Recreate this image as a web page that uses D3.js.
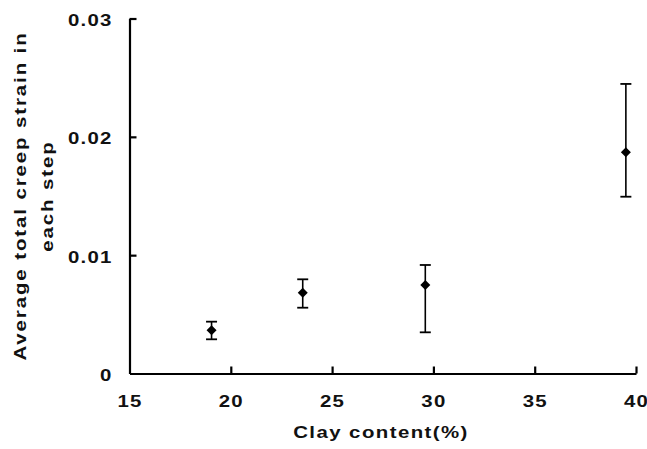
<!DOCTYPE html>
<html><head><meta charset="utf-8">
<script src="https://cdn.jsdelivr.net/npm/d3@7"></script>
<style>
body{margin:0;background:#fff;}
text{font-family:"Liberation Sans",Arial,sans-serif;fill:#111;}
</style></head>
<body><svg id="c" width="647" height="449"></svg>
<script>
const clay = [19.05, 23.55, 29.6, 39.5];
const strain = [0.00365, 0.00683, 0.00748, 0.0187];
const errTop = [0.00438, 0.00796, 0.00917, 0.02447];
const errBottom = [0.00289, 0.00556, 0.00348, 0.01494];
const xTicks = [15, 20, 25, 30, 35, 40];
const yTicks = [0, 0.01, 0.02, 0.03];
const xTitle = "Clay content(%)";
const yTitle = ["Average total creep strain in", "each step"];

const svg = d3.select("#c");
const x = d3.scaleLinear().domain([15, 40]).range([129.5, 636]);
const y = d3.scaleLinear().domain([0, 0.03]).range([373.5, 18.5]);

const fs = 17, sx = 1.2;
function stretch(sel) {
  sel.each(function () {
    const t = d3.select(this);
    const x0 = +t.attr("x") || 0;
    t.attr("x", x0 / sx).attr("transform", `scale(${sx},1)`);
  });
}

const xa = svg.append("g").attr("transform", `translate(0,${y(0)})`)
  .call(d3.axisBottom(x).tickValues(xTicks).tickSizeInner(-7).tickSizeOuter(0).tickPadding(21).tickFormat(d3.format("d")));
const ya = svg.append("g").attr("transform", `translate(${x(15)},0)`)
  .call(d3.axisLeft(y).tickValues(yTicks).tickSizeInner(-7).tickSizeOuter(0).tickPadding(17).tickFormat(d => d === 0 ? "0" : d3.format(".2f")(d)));
[xa, ya].forEach(a => {
  a.selectAll("path,line").attr("stroke", "#000").attr("stroke-width", 2.2);
  a.selectAll("text").style("font-size", fs + "px").style("letter-spacing", "1px").style("font-weight", "bold").attr("fill", "#111");
  stretch(a.selectAll("text"));
});
xa.selectAll(".tick line").filter(d => d === 15).remove();
ya.selectAll(".tick line").filter(d => d === 0).remove();
ya.selectAll(".tick text").attr("dy", "0.42em");

svg.append("text").attr("transform", `translate(381,438) scale(${sx},1)`).attr("text-anchor", "middle")
  .style("font-size", fs + "px").style("letter-spacing", "1.2px").style("font-weight", "bold").text(xTitle);

const yt = svg.append("text").attr("transform", `translate(20,196) rotate(-90) scale(${sx},1)`).attr("text-anchor", "middle")
  .style("font-size", fs + "px").style("letter-spacing", "1.6px").style("font-weight", "bold");
yTitle.forEach((t, i) => yt.append("tspan").attr("x", 0).attr("y", i * 27 + 6).text(t));

const data = clay.map((c, i) => ({c, v: strain[i], t: errTop[i], b: errBottom[i]}));
const g = svg.append("g");
const cap = 5.5;
data.forEach(d => {
  const cx = x(d.c);
  g.append("line").attr("x1", cx).attr("x2", cx).attr("y1", y(d.t)).attr("y2", y(d.b)).attr("stroke", "#000").attr("stroke-width", 1.6);
  [d.t, d.b].forEach(v => g.append("line").attr("x1", cx - cap).attr("x2", cx + cap).attr("y1", y(v)).attr("y2", y(v)).attr("stroke", "#000").attr("stroke-width", 1.8));
  const cy = y(d.v), r = 5;
  g.append("path").attr("d", `M${cx - r},${cy}L${cx},${cy - r}L${cx + r},${cy}L${cx},${cy + r}Z`).attr("fill", "#000");
});
</script></body></html>
